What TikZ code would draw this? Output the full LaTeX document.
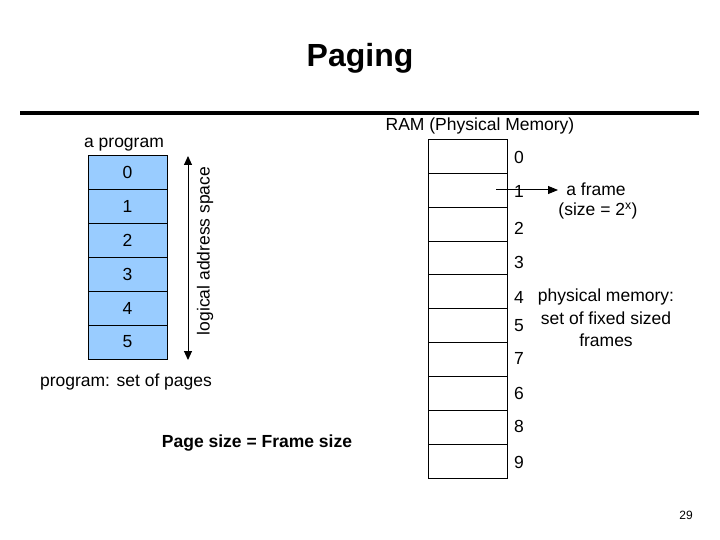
\documentclass[tikz,border=0pt]{standalone}
\usepackage{fontspec}
\setmainfont{Liberation Sans}
\usetikzlibrary{arrows.meta}
\definecolor{pagefill}{HTML}{99CCFF}
\tikzset{
  txt/.style={inner sep=0pt, font=\fontsize{17.5}{21.5}\selectfont},
  pagebox/.style={draw=black, fill=pagefill, minimum width=79pt, minimum height=34pt, inner sep=0pt, font=\fontsize{17.5}{21}\selectfont},
  framebox/.style={draw=black, fill=white, minimum width=79pt, minimum height=34pt, inner sep=0pt},
  tip/.style={-{Triangle[length=10pt,width=8pt]}, line width=1pt}
}
\begin{document}
\begin{tikzpicture}[x=1pt,y=-1pt]
\useasboundingbox (0,0) rectangle (720,540);
% title
\node[inner sep=0pt, font=\bfseries\fontsize{32}{36}\selectfont] (title) at (360,58) {Paging};
\coordinate (rl) at (20,113);
\coordinate (rr) at (699,113);
\draw[line width=4pt] (rl) -- (rr);
% program
\node[txt] (aprog) at (124,145) {a program};
\foreach \i in {0,...,5}{
  \node[pagebox] (p\i) at (127.5,{172+34*\i}) {\i};
}
\coordinate (la) at (188,156);
\coordinate (lb) at (188,360);
\draw[{Triangle[length=9pt,width=8pt]}-{Triangle[length=9pt,width=8pt]}, line width=1pt] (la) -- (lb);
\node[txt, rotate=90] (las) at (205,251) {logical address space};
\node[txt] (pset) at (126,382) {program: set of pages};
\node[inner sep=0pt, font=\bfseries\fontsize{17.5}{21}\selectfont] (psize) at (257,443) {Page size = Frame size};
% RAM
\node[txt] (ram) at (480,126) {RAM (Physical Memory)};
\foreach \i in {0,...,9}{
  \node[framebox] (f\i) at (467.5,{156+33.9*\i}) {};
}
\node[txt] (l0) at (519,157) {0};
\node[txt] (l1) at (519,191) {1};
\node[txt] (l2) at (519,228) {2};
\node[txt] (l3) at (519,262) {3};
\node[txt] (l4) at (519,297) {4};
\node[txt] (l5) at (519,326) {5};
\node[txt] (l7) at (519,358) {7};
\node[txt] (l6) at (519,393) {6};
\node[txt] (l8) at (519,426) {8};
\node[txt] (l9) at (519,462) {9};
\node[txt] (fr) at (596,189) {a frame};
\node[txt] (frs) at (598,211) {(size = 2\textsuperscript{x})};
\coordinate (as) at (496,190);
\coordinate (ae) at (558,190);
\draw[tip] (as) -- (ae);
\node[txt] (pm1) at (606,297) {physical memory:};
\node[txt] (pm2) at (606,318) {set of fixed sized};
\node[txt] (pm3) at (606,340) {frames};
\node[inner sep=0pt, font=\fontsize{12}{14}\selectfont] (pg) at (686,515) {29};
\end{tikzpicture}
\end{document}
